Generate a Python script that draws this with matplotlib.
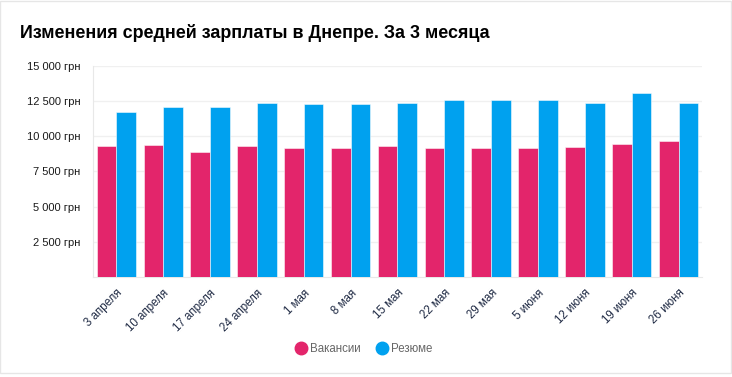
import matplotlib
matplotlib.use("Agg")
import matplotlib.pyplot as plt
from matplotlib.lines import Line2D
from matplotlib.patches import Rectangle
from matplotlib.ticker import FuncFormatter
import numpy as np

plt.rcParams['font.family'] = ['Liberation Sans', 'DejaVu Sans']

# data
weeks = ['3 апреля', '10 апреля', '17 апреля', '24 апреля', '1 мая', '8 мая',
         '15 мая', '22 мая', '29 мая', '5 июня', '12 июня', '19 июня', '26 июня']
vacancies = [9290, 9360, 8860, 9290, 9150, 9150, 9290, 9170, 9170, 9170, 9240, 9430, 9660]
resumes = [11700, 12050, 12050, 12330, 12290, 12290, 12330, 12570, 12570, 12570, 12360, 13040, 12360]
yticks = [2500, 5000, 7500, 10000, 12500, 15000]

RED = '#e3256b'
BLUE = '#00a1ef'

fig = plt.figure(figsize=(7.32, 3.77), dpi=100)
ax = fig.add_axes([0.127, 0.2645, 0.832, 0.5612])

x = np.arange(len(weeks))
w = 0.42
ax.bar(x - w / 2, vacancies, w, color=RED, edgecolor=(1, 1, 1, 0.6), linewidth=0.6, zorder=3)
ax.bar(x + w / 2, resumes, w, color=BLUE, edgecolor=(1, 1, 1, 0.6), linewidth=0.6, zorder=3)

ax.set_xlim(-0.5, len(weeks) - 0.5)
ax.set_ylim(0, 15000)
ax.set_yticks(yticks)
ax.yaxis.set_major_formatter(FuncFormatter(lambda v, p: f'{int(v):,}'.replace(',', ' ') + ' грн'))
ax.grid(axis='y', color='#f0f0f0', linewidth=1, zorder=0)
ax.tick_params(axis='y', length=0, pad=9, labelsize=8, labelcolor='#1a1a1a')
ax.set_xticks(x)
ax.set_xticklabels(weeks, rotation=45, ha='right', rotation_mode='anchor',
                   fontsize=8.3, color='#1f2a44')
ax.tick_params(axis='x', length=0, pad=7)

for s in ['top', 'right']:
    ax.spines[s].set_visible(False)
for s in ['left', 'bottom']:
    ax.spines[s].set_color('#e8e8e8')

fig.text(0.028, 0.898, 'Изменения средней зарплаты в Днепре. За 3 месяца',
         fontsize=12.9, fontweight='bold', color='#000000')

handles = [Line2D([], [], marker='o', linestyle='', markersize=9, color=RED),
           Line2D([], [], marker='o', linestyle='', markersize=9, color=BLUE)]
fig.legend(handles, ['Вакансии', 'Резюме'], loc='center', bbox_to_anchor=(0.497, 0.0743),
           ncol=2, frameon=False, fontsize=8.3, labelcolor='#666666',
           handletextpad=0.35, columnspacing=1.3, handlelength=1.0)

fig.patches.append(Rectangle((0, 0.011), 0.9985, 0.986, transform=fig.transFigure,
                             fill=False, edgecolor='#e6e6e6', linewidth=1))

fig.savefig('out.png', dpi=100)
